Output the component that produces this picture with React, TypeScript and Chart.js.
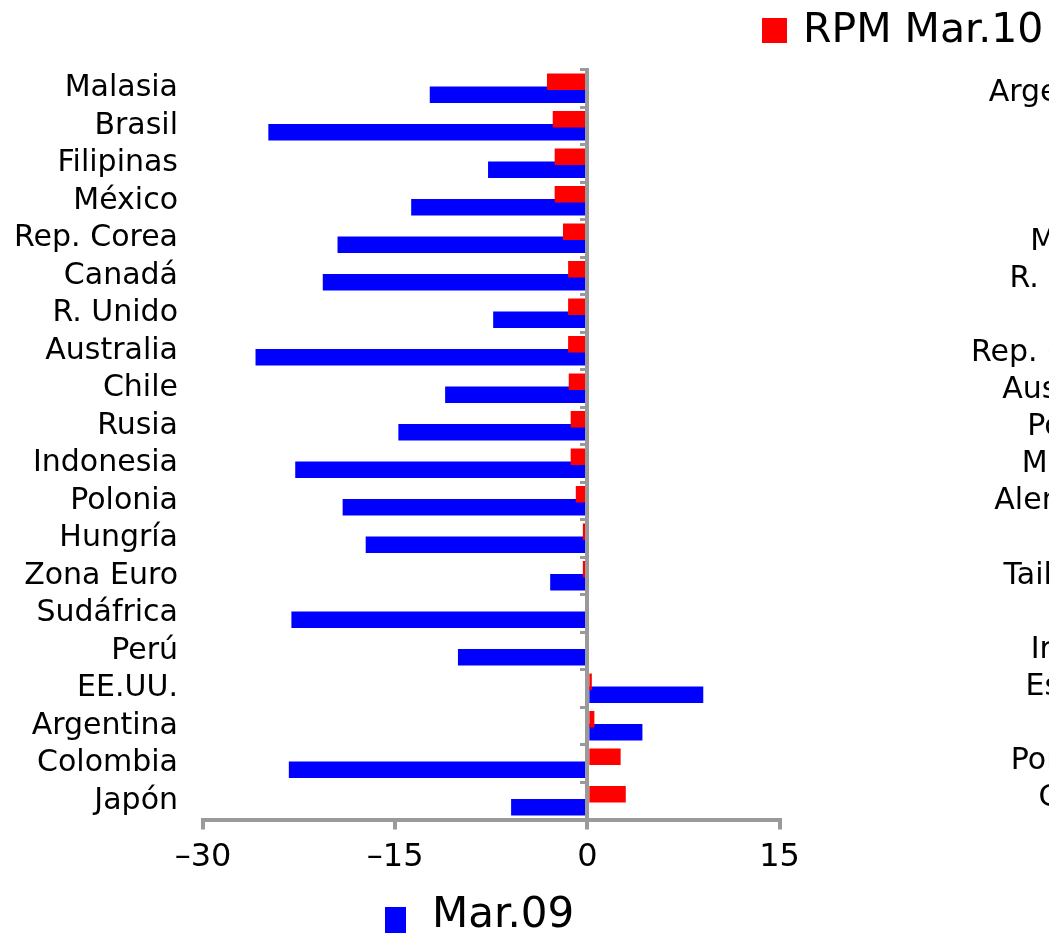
import React, { useEffect, useRef } from "react";
import { Chart, registerables } from "chart.js";

Chart.register(...registerables);

// ---- Data ----
const categories = [
  "Malasia", "Brasil", "Filipinas", "México", "Rep. Corea", "Canadá", "R. Unido",
  "Australia", "Chile", "Rusia", "Indonesia", "Polonia", "Hungría", "Zona Euro",
  "Sudáfrica", "Perú", "EE.UU.", "Argentina", "Colombia", "Japón",
];
const rpmMar10 = [
  -3.15, -2.7, -2.55, -2.55, -1.9, -1.5, -1.5, -1.5, -1.45, -1.3,
  -1.3, -0.9, -0.35, -0.35, 0, 0, 0.35, 0.55, 2.6, 3.0,
];
const mar09 = [
  -12.3, -24.9, -7.75, -13.75, -19.5, -20.65, -7.35, -25.9, -11.1, -14.75,
  -22.8, -19.1, -17.3, -2.9, -23.1, -10.1, 9.05, 4.3, -23.3, -5.95,
];
const xTicks = [-30, -15, 0, 15];
const seriesNames = ["RPM Mar.10", "Mar.09"];

// second (partly visible) panel: only its category labels show
const secondCategories = [
  "Argentina", "Chile", "Brasil", "Perú", "México", "R. Unido", "Rusia", "Rep. Corea",
  "Australia", "Polonia", "Malasia", "Alemania", "China", "Tailandia", "Japón",
  "Irlanda", "España", "Italia", "Portugal", "Grecia",
];

const FONT = "'DejaVu Sans', sans-serif";
const GRAY = "#9a9a9a";

export default function App() {
  const mainRef = useRef<HTMLCanvasElement | null>(null);
  const sideRef = useRef<HTMLCanvasElement | null>(null);

  useEffect(() => {
    Chart.defaults.font.family = FONT;
    const main = new Chart(mainRef.current as HTMLCanvasElement, {
      type: "bar",
      data: {
        labels: categories,
        datasets: [
          {
            label: seriesNames[0],
            data: rpmMar10,
            backgroundColor: "#ff0000",
            borderWidth: 0,
            categoryPercentage: 0.6933,
            barPercentage: 1.285,
          },
          {
            label: seriesNames[1],
            data: mar09,
            backgroundColor: "#0000ff",
            borderWidth: 0,
            categoryPercentage: 0.6933,
            barPercentage: 1.285,
          },
        ],
      },
      options: {
        indexAxis: "y",
        animation: false,
        responsive: false,
        maintainAspectRatio: false,
        events: [],
        layout: { padding: { left: 0, top: 69.5, right: 269.5, bottom: 55.5 } },
        plugins: { legend: { display: false }, tooltip: { enabled: false } },
        scales: {
          x: {
            type: "linear",
            position: "bottom",
            min: -30,
            max: 15,
            afterBuildTicks: (s: any) => {
              s.ticks = xTicks.map((v) => ({ value: v }));
            },
            afterFit: (s: any) => {
              s.height = 60;
            },
            ticks: {
              autoSkip: false,
              maxRotation: 0,
              padding: 9,
              color: "#000",
              font: { family: FONT, size: 32 },
              callback: (v: any) => (Number(v) < 0 ? "–" + Math.abs(Number(v)) : String(v)),
            },
            grid: {
              display: true,
              drawOnChartArea: false,
              drawTicks: true,
              tickLength: 10,
              color: GRAY,
              lineWidth: 4,
            },
            border: { display: true, color: GRAY, width: 4 },
          },
          y: {
            type: "category",
            position: "left",
            afterFit: (s: any) => {
              s.width = 203;
            },
            grid: { display: false, drawTicks: false },
            border: { display: false },
            ticks: {
              autoSkip: false,
              padding: 25,
              color: "#000",
              font: { family: FONT, size: 30 },
            },
          },
          y2: {
            type: "category",
            position: { x: 0 },
            offset: true,
            grid: {
              offset: true,
              drawOnChartArea: false,
              drawTicks: true,
              tickLength: 5,
              color: GRAY,
              lineWidth: 3,
              z: 1,
            },
            border: { display: true, color: GRAY, width: 4, z: 1 },
            ticks: { display: false },
          },
        } as any,
      },
    });

    const side = new Chart(sideRef.current as HTMLCanvasElement, {
      type: "bar",
      data: { labels: secondCategories, datasets: [] },
      options: {
        indexAxis: "y",
        animation: false,
        responsive: false,
        maintainAspectRatio: false,
        events: [],
        layout: { padding: { left: 0, top: 75, right: 20, bottom: 118 } },
        plugins: { legend: { display: false }, tooltip: { enabled: false } },
        scales: {
          x: { type: "linear", display: false, min: 0, max: 1 },
          y: {
            type: "category",
            position: "left",
            afterFit: (s: any) => {
              s.width = 260;
            },
            grid: { display: false, drawTicks: false },
            border: { display: false },
            ticks: {
              autoSkip: false,
              padding: 25,
              color: "#000",
              font: { family: FONT, size: 30 },
            },
          },
        },
      },
    });

    return () => {
      main.destroy();
      side.destroy();
    };
  }, []);

  return (
    <div
      style={{
        position: "absolute",
        left: 0,
        top: 0,
        width: 1049,
        height: 935,
        overflow: "hidden",
        background: "#fff",
        fontFamily: FONT,
      }}
    >
      <canvas
        ref={sideRef}
        width={700}
        height={935}
        style={{ position: "absolute", left: 900, top: 0, display: "block" }}
      />
      <canvas
        ref={mainRef}
        width={1049}
        height={935}
        style={{ position: "absolute", left: 0, top: 0, display: "block" }}
      />
      {/* top legend */}
      <div
        style={{
          position: "absolute",
          left: 762,
          top: 18,
          width: 25,
          height: 25,
          background: "#ff0000",
        }}
      />
      <div
        style={{
          position: "absolute",
          left: 803,
          top: 8.3,
          fontSize: 41,
          lineHeight: "41px",
          color: "#000",
          whiteSpace: "nowrap",
        }}
      >
        {seriesNames[0]}
      </div>
      {/* bottom legend */}
      <div
        style={{
          position: "absolute",
          left: 385,
          top: 907,
          width: 21,
          height: 26,
          background: "#0000ff",
        }}
      />
      <div
        style={{
          position: "absolute",
          left: 432,
          top: 891.5,
          fontSize: 42,
          lineHeight: "42px",
          color: "#000",
          whiteSpace: "nowrap",
        }}
      >
        {seriesNames[1]}
      </div>
    </div>
  );
}
